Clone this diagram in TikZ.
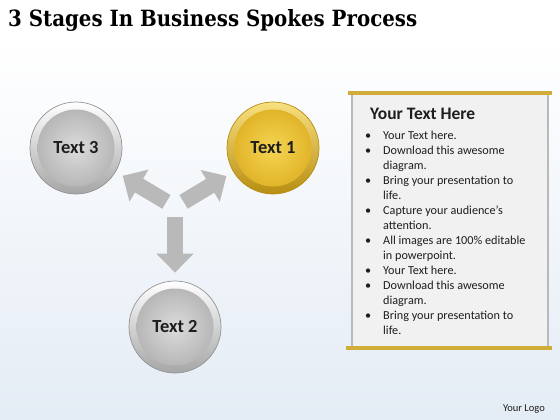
\documentclass[tikz,border=0pt]{standalone}
\usepackage{fontspec}
\setmainfont{Carlito}
\newfontfamily\titlefont{DejaVu Serif}
\usepackage{graphicx}
\usetikzlibrary{arrows.meta}
\definecolor{bgblue}{HTML}{E4ECF5}
\definecolor{goldbar}{HTML}{D2AC38}
\definecolor{goldrim}{HTML}{B88E12}
\definecolor{goldtop}{HTML}{F8E080}
\definecolor{goldmid}{HTML}{F5D552}
\definecolor{goldedge}{HTML}{DDAE22}
\definecolor{panelgray}{HTML}{F1F1F1}
\definecolor{inktext}{HTML}{1E1E1E}
\begin{document}
\begin{tikzpicture}[x=1pt,y=-1pt,
    stage/.style ={circle, draw=gray!85, line width=0.7pt, inner sep=0pt, minimum size=92pt,
      top color=white, bottom color=gray!70, text=inktext,
      path picture={\shade[inner color=gray!28, outer color=gray!62] (path picture bounding box.center) circle (38.5pt);},
      font=\fontsize{18.5}{20}\selectfont\bfseries},
    goldstage/.style ={stage, draw=goldrim, top color=goldtop, bottom color=goldrim,
      path picture={\shade[inner color=goldmid, outer color=goldedge] (path picture bounding box.center) circle (38.5pt);}},
    spoke/.style ={line width=16pt, draw=gray!55, -{Triangle[width=36pt,length=19pt]}, shorten <=10pt, shorten >=8pt}]
   % background
   \useasboundingbox (0,0) rectangle (560,420);
   \fill[white] (0,0) rectangle (560,40);
   \shade[top color=white, bottom color=bgblue] (0,40) rectangle (560,420);
   \node[anchor=base west, inner sep=0pt] (title) at (8,27) {\resizebox{409pt}{17pt}{\titlefont\bfseries 3 Stages In Business Spokes Process}};
   % spokes
   \node[goldstage] (t1) at (273,148) {Text 1};
   \node[stage] (t2) at (175,327) {Text 2};
   \node[stage] (t3) at (76,148) {Text 3};
   \coordinate (hub) at (175,207);
   \draw[spoke] (hub) -- (t1);
   \draw[spoke] (hub) -- (t2);
   \draw[spoke] (hub) -- (t3);
   % text panel
   \fill[panelgray] (352,94) rectangle (548,347);
   \draw[gray!55, line width=1.5pt] (352,94) -- (352,347) (548,94) -- (548,347);
   \draw[goldbar, line width=3.5pt] (348,93) -- (552,93);
   \draw[goldbar, line width=4pt] (346,348) -- (552,348);
   \node[anchor=base west, inner sep=0pt, text=inktext, font=\fontsize{17.5}{19}\selectfont\bfseries] (head) at (370,119) {Your Text Here};
   \node[anchor=north west, inner sep=0pt, text=inktext, font=\fontsize{12.2}{15}\selectfont] (list) at (365,129) {%
     \begin{tabular}{@{}p{18pt}@{}l@{}}
     \textbullet & Your Text here.\\
     \textbullet & Download this awesome\\
                 & diagram.\\
     \textbullet & Bring your presentation to\\
                 & life.\\
     \textbullet & Capture your audience’s\\
                 & attention.\\
     \textbullet & All images are 100\% editable\\
                 & in powerpoint.\\
     \textbullet & Your Text here.\\
     \textbullet & Download this awesome\\
                 & diagram.\\
     \textbullet & Bring your presentation to\\
                 & life.
     \end{tabular}};
   \node[anchor=base east, inner sep=0pt, text=inktext, font=\fontsize{10.5}{12}\selectfont] (logo) at (545,411) {Your Logo};
 \end{tikzpicture}
\end{document}
